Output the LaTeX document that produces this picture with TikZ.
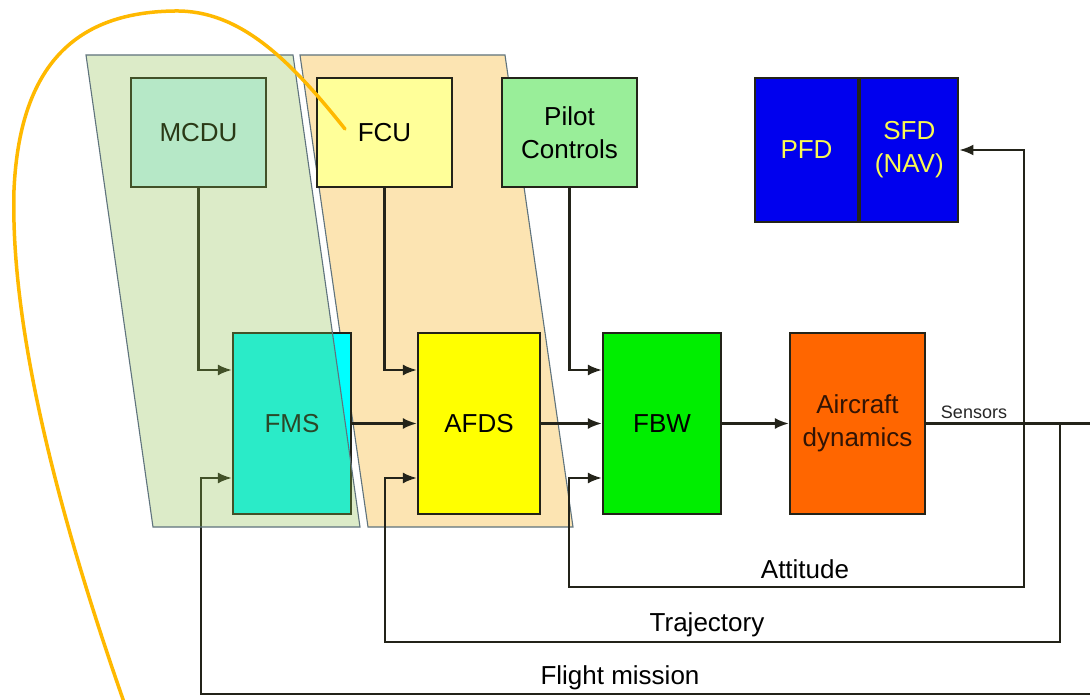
\documentclass[tikz,border=0pt]{standalone}
\usepackage{fontspec}
\setmainfont{Liberation Sans}
\usetikzlibrary{arrows.meta}
\definecolor{mcduC}{RGB}{201,251,253}
\definecolor{fcuC}{RGB}{255,255,153}
\definecolor{pilotC}{RGB}{153,238,153}
\definecolor{dispC}{RGB}{0,0,238}
\definecolor{dispT}{RGB}{250,250,80}
\definecolor{fmsC}{RGB}{0,255,255}
\definecolor{fmsT}{RGB}{0,20,25}
\definecolor{afdsC}{RGB}{255,255,0}
\definecolor{fbwC}{RGB}{0,238,0}
\definecolor{acC}{RGB}{255,102,0}
\definecolor{acT}{RGB}{50,20,5}
\definecolor{edgeC}{RGB}{35,35,25}
\definecolor{greenZ}{RGB}{140,190,75}
\definecolor{orangeZ}{RGB}{252,228,178}
\definecolor{zoneLine}{RGB}{95,115,125}
\definecolor{penC}{RGB}{255,185,0}
\tikzset{
  x=1pt,y=1pt,
  box/.style={draw=edgeC, line width=2.3pt, inner sep=2pt, align=center,
    font=\fontsize{26}{33}\selectfont},
  topbox/.style={box, minimum width=135pt, minimum height=109pt},
  midbox/.style={box, minimum height=181pt},
  conn/.style={draw=edgeC, line width=2.1pt},
  arr/.style={conn, -{Latex[length=14pt,width=11pt]}},
  lbl/.style={font=\fontsize{26}{30}\selectfont, text=black},
  zone/.style={draw=zoneLine, line width=1.1pt}
}
\begin{document}
\begin{tikzpicture}
\useasboundingbox (0,0) rectangle (1090,-700);
\fill[white] (0,0) rectangle (1090,-700);
% orange zone (behind)
\path[zone, fill=orangeZ] (300,-55) -- (505,-55) -- (573,-527) -- (368,-527) -- cycle;

% top boxes
\node[topbox, fill=mcduC, text=black] (mcdu) at (198.5,-132.5) {MCDU};
\node[topbox, fill=fcuC] (fcu) at (384.5,-132.5) {FCU};
\node[topbox, fill=pilotC] (pilot) at (569.5,-132.5) {Pilot\\Controls};
\node[box, fill=dispC, text=dispT, minimum width=103pt, minimum height=144pt] (pfd) at (806.5,-150) {PFD};
\node[box, fill=dispC, text=dispT, minimum width=98pt, minimum height=144pt, anchor=west] (sfd) at (pfd.east) {SFD\\(NAV)};

% middle boxes
\node[midbox, fill=fmsC, text=fmsT, minimum width=118pt] (fms) at (292,-423.5) {FMS};
\node[midbox, fill=afdsC, minimum width=122pt] (afds) at (479,-423.5) {AFDS};
\node[midbox, fill=fbwC, minimum width=118pt] (fbw) at (662,-423.5) {FBW};
\node[midbox, fill=acC, text=acT, minimum width=135pt] (ac) at (857.5,-423.5) {Aircraft\\dynamics};

% coordinates
\coordinate (jA) at (1024,-423.5);
\coordinate (jT) at (1060,-423.5);
\coordinate (edgeR) at (1100,-423.5);
\coordinate (attL) at (569,-587);
\coordinate (traL) at (385,-642);
\coordinate (fliR) at (1100,-694);
\coordinate (fliL) at (201,-694);

% forward connectors
\draw[arr] (mcdu.south) |- ([yshift=53.5pt]fms.west);
\draw[arr] (fcu.south) |- ([yshift=53.5pt]afds.west);
\draw[arr] (pilot.south) |- ([yshift=53.5pt]fbw.west);
\draw[arr] (fms.east) -- (afds.west);
\draw[arr] (afds.east) -- (fbw.west);
\draw[arr] (fbw.east) -- (ac.west);
\draw[conn] (ac.east) -- (edgeR);
\node[font=\fontsize{18}{22}\selectfont, text=black!85] (sens) at (974,-412) {Sensors};

% feedback loops
\draw[arr] (jA) |- (sfd.east);
\draw[arr] (jA) |- (attL) |- ([yshift=-54.5pt]fbw.west);
\draw[arr] (jT) |- (traL) |- ([yshift=-54.5pt]afds.west);
\draw[arr] (edgeR) -- (fliR) -- (fliL) |- ([yshift=-54.5pt]fms.west);
\node[lbl] (attT) at (805,-569) {Attitude};
\node[lbl] (traT) at (707,-625) {Trajectory};
\node[lbl] (fliT) at (620,-678) {Flight mission};

% green zone (translucent overlay)
\path[zone, fill=greenZ, fill opacity=0.3] (86,-55) -- (293,-55) -- (360,-527) -- (153,-527) -- cycle;

% hand-drawn pen stroke
\draw[penC, line width=3.5pt, line cap=round]
  (345,-129) .. controls (290,-60) and (240,-10) .. (175,-11)
  .. controls (85,-12) and (20,-55) .. (14,-190)
  .. controls (10,-330) and (60,-520) .. (125,-705);
\end{tikzpicture}
\end{document}
